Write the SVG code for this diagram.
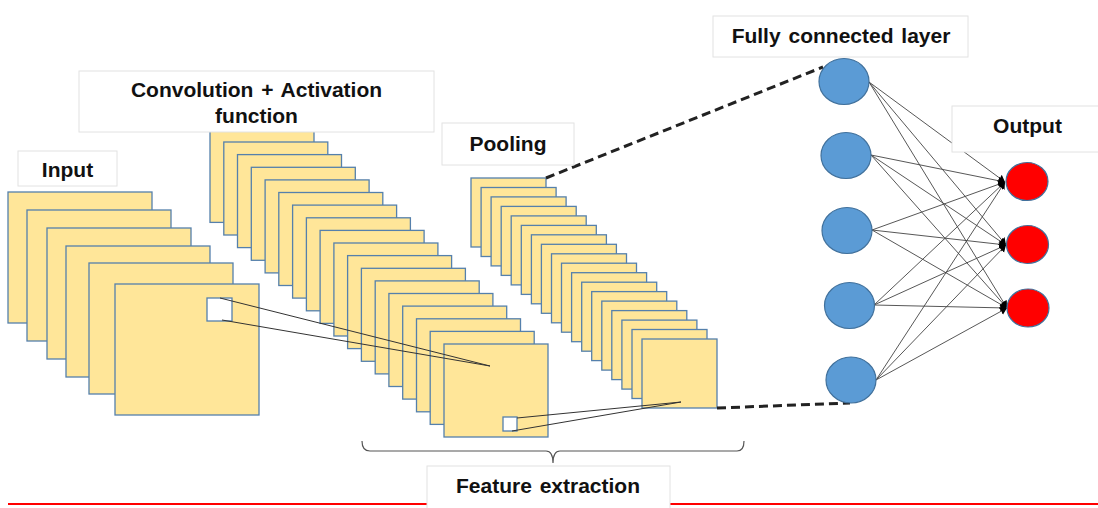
<svg xmlns="http://www.w3.org/2000/svg" xmlns:xlink="http://www.w3.org/1999/xlink" width="1098" height="508" viewBox="0 0 1098 508">
<style>
.map{fill:#FFE699;stroke:#5580AC;stroke-width:1.3}
.hole{fill:#ffffff;stroke:#5580AC;stroke-width:1.3}
.lbl{fill:#ffffff;stroke:#e2e2e2;stroke-width:1}
.txt{font-family:"Liberation Sans",Arial,sans-serif;font-weight:bold;font-size:21px;fill:#111;text-anchor:middle;word-spacing:2px}
.fc{fill:#5B9BD5;stroke:#41719C;stroke-width:1.2}
.out{fill:#FF0000;stroke:#41719C;stroke-width:1.2}
.thin{stroke:#333;stroke-width:1;fill:none}
.edge{stroke:#444;stroke-width:0.9;fill:none;marker-end:url(#arr)}
.dash{stroke:#222;stroke-width:3;stroke-dasharray:9 5;fill:none}
.brace{stroke:#555;stroke-width:1.2;fill:none}
</style>
<defs>
<rect id="inmap" class="map" width="144" height="131"/>
<rect id="cvmap" class="map" width="104" height="93"/>
<rect id="plmap" class="map" width="75" height="69"/>
<marker id="arr" markerUnits="userSpaceOnUse" markerWidth="9" markerHeight="10" refX="7" refY="4.5" orient="auto">
<path d="M0,0.5 L7,4.5 L0,8.5 Q1.5,4.5 0,0.5 z" fill="#000"/>
</marker>
</defs>

<g id="input-stack">
<use href="#inmap" x="8" y="192"/>
<use href="#inmap" x="27" y="210"/>
<use href="#inmap" x="47" y="228"/>
<use href="#inmap" x="66" y="246"/>
<use href="#inmap" x="89" y="263"/>
<use href="#inmap" x="115" y="284"/>
<rect class="hole" x="207" y="298" width="25" height="23"/>
</g>

<g id="conv-stack">
<use href="#cvmap" x="210" y="129.4"/>
<use href="#cvmap" x="223.8" y="142"/>
<use href="#cvmap" x="237.5" y="154.6"/>
<use href="#cvmap" x="251.3" y="167.3"/>
<use href="#cvmap" x="265.1" y="179.9"/>
<use href="#cvmap" x="278.8" y="192.5"/>
<use href="#cvmap" x="292.6" y="205.1"/>
<use href="#cvmap" x="306.4" y="217.8"/>
<use href="#cvmap" x="320.1" y="230.4"/>
<use href="#cvmap" x="333.9" y="243"/>
<use href="#cvmap" x="347.6" y="255.6"/>
<use href="#cvmap" x="361.4" y="268.3"/>
<use href="#cvmap" x="375.2" y="280.9"/>
<use href="#cvmap" x="388.9" y="293.5"/>
<use href="#cvmap" x="402.7" y="306.1"/>
<use href="#cvmap" x="416.5" y="318.8"/>
<use href="#cvmap" x="430.2" y="331.4"/>
<use href="#cvmap" x="444" y="344"/>
<rect class="hole" x="503" y="417" width="14" height="14"/>
</g>

<g id="pool-stack">
<use href="#plmap" x="471" y="178"/>
<use href="#plmap" x="481.1" y="187.5"/>
<use href="#plmap" x="491.1" y="196.9"/>
<use href="#plmap" x="501.2" y="206.4"/>
<use href="#plmap" x="511.2" y="215.9"/>
<use href="#plmap" x="521.3" y="225.4"/>
<use href="#plmap" x="531.4" y="234.8"/>
<use href="#plmap" x="541.4" y="244.3"/>
<use href="#plmap" x="551.5" y="253.8"/>
<use href="#plmap" x="561.5" y="263.2"/>
<use href="#plmap" x="571.6" y="272.7"/>
<use href="#plmap" x="581.7" y="282.2"/>
<use href="#plmap" x="591.7" y="291.6"/>
<use href="#plmap" x="601.8" y="301.1"/>
<use href="#plmap" x="611.8" y="310.6"/>
<use href="#plmap" x="621.9" y="320.1"/>
<use href="#plmap" x="632" y="329.5"/>
<use href="#plmap" x="642" y="339"/>
</g>

<g id="connectors">
<path class="thin" d="M220,298 L490,366 M222,320 L490,366"/>
<path class="thin" d="M517,418 L681,402 M512,431 L681,402"/>
<path class="dash" d="M546,178 L823,67"/>
<path class="dash" d="M717,408 L850,403"/>
<path class="edge" d="M869,82 L1005,182"/>
<path class="edge" d="M869,82 L1006,245"/>
<path class="edge" d="M869,82 L1007,308"/>
<path class="edge" d="M871,155 L1005,182"/>
<path class="edge" d="M871,155 L1006,245"/>
<path class="edge" d="M871,155 L1007,308"/>
<path class="edge" d="M872,230 L1005,182"/>
<path class="edge" d="M872,230 L1006,245"/>
<path class="edge" d="M872,230 L1007,308"/>
<path class="edge" d="M874,305 L1005,182"/>
<path class="edge" d="M874,305 L1006,245"/>
<path class="edge" d="M874,305 L1007,308"/>
<path class="edge" d="M876,380 L1005,182"/>
<path class="edge" d="M876,380 L1006,245"/>
<path class="edge" d="M876,380 L1007,308"/>
<path class="brace" d="M362,441 Q362,451 370,451 L546,451 Q553,451 553,463 Q553,451 560,451 L737,451 Q744,451 744,441"/>
</g>

<g id="fc-layer">
<ellipse id="fc-1" class="fc" cx="844" cy="81.5" rx="25" ry="23"/>
<ellipse id="fc-2" class="fc" cx="846" cy="155.5" rx="25" ry="23"/>
<ellipse id="fc-3" class="fc" cx="847" cy="230.5" rx="25" ry="23"/>
<ellipse id="fc-4" class="fc" cx="849.5" cy="305.5" rx="25" ry="23"/>
<ellipse id="fc-5" class="fc" cx="851" cy="380" rx="25" ry="23"/>
</g>

<g id="output-layer">
<ellipse id="out-1" class="out" cx="1027" cy="181.5" rx="21" ry="19"/>
<ellipse id="out-2" class="out" cx="1027.5" cy="244.5" rx="21" ry="19"/>
<ellipse id="out-3" class="out" cx="1028" cy="308" rx="21" ry="19"/>
</g>

<line x1="8" y1="504" x2="1098" y2="504" stroke="#FF0000" stroke-width="2.2"/>

<g id="label-input">
<rect class="lbl" x="18" y="151" width="99" height="35"/>
<text class="txt" x="67.5" y="177">Input</text>
</g>
<g id="label-conv">
<rect class="lbl" x="79" y="71" width="355" height="61"/>
<text class="txt" x="256.5" y="97">Convolution + Activation</text>
<text class="txt" x="256.5" y="123">function</text>
</g>
<g id="label-pooling">
<rect class="lbl" x="442" y="123" width="132" height="42"/>
<text class="txt" x="508" y="151">Pooling</text>
</g>
<g id="label-fc">
<rect class="lbl" x="713" y="16" width="255" height="41"/>
<text class="txt" x="841" y="43">Fully connected layer</text>
</g>
<g id="label-output">
<rect class="lbl" x="952" y="106" width="160" height="46"/>
<text class="txt" x="1027.5" y="133">Output</text>
</g>
<g id="label-feature">
<rect class="lbl" x="427" y="466" width="243" height="50"/>
<text class="txt" x="548" y="493">Feature extraction</text>
</g>
</svg>
